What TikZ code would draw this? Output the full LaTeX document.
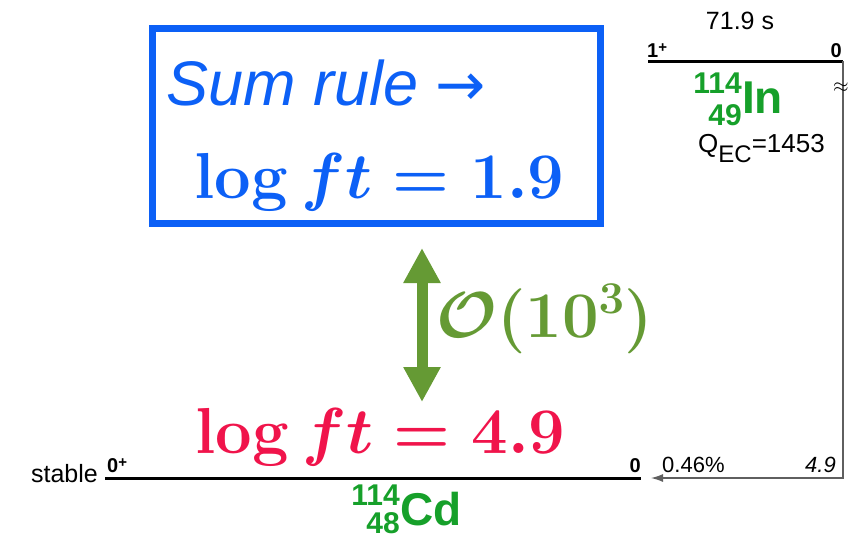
\RequirePackage{fix-cm}
\documentclass[tikz,border=0pt]{standalone}
\usepackage[no-math]{fontspec}
\newfontfamily\helv{Liberation Sans}
\newfontfamily\symb{DejaVu Sans}
\usetikzlibrary{arrows.meta}
\definecolor{sumblue}{RGB}{12,96,246}
\definecolor{ordgreen}{RGB}{101,154,52}
\definecolor{ftred}{RGB}{240,20,75}
\definecolor{nucgreen}{RGB}{22,160,42}
\definecolor{decaygray}{RGB}{95,95,95}
\newcommand\spinplus{\raisebox{5pt}{\fontsize{15}{15}\selectfont+}}

\begin{document}
\begin{tikzpicture}[
            x=1pt, y=-1pt,
            line cap=butt,
            level/.style={line width=3pt},
            sum box/.style={draw=sumblue, line width=7pt, inner sep=0pt},
            sum text/.style={sumblue, inner sep=0pt, font=\helv\itshape\fontsize{63}{63}\selectfont},
            ft text/.style={inner sep=0pt, font=\fontsize{65}{65}\selectfont\boldmath},
            order arrow/.style={
                ordgreen, line width=11pt,
                {Triangle[length=35pt, width=35pt]}-{Triangle[length=35pt, width=35pt]}
            },
            decay/.style={decaygray, line width=1.2pt, -{Latex[length=12pt, width=8pt]}},
            spin label/.style={inner sep=0pt, font=\helv\bfseries\fontsize{20}{20}\selectfont},
            level label/.style={inner sep=0pt, font=\helv\fontsize{25}{25}\selectfont},
            branch label/.style={inner sep=0pt, font=\helv\fontsize{22}{22}\selectfont},
            nuc symbol/.style={nucgreen, inner sep=0pt, font=\helv\bfseries\fontsize{46}{46}\selectfont},
            nuc number/.style={nucgreen, inner sep=0pt, font=\helv\bfseries\fontsize{30}{30}\selectfont},
        ]
        \useasboundingbox (0,0) rectangle (849,539);

        \coordinate (cdL) at (105,478);
        \coordinate (cdR) at (641,478);
        \coordinate (inL) at (648,61);
        \coordinate (inR) at (843,61);
        \coordinate (feed) at (651,478);
        \coordinate (ordtop) at (422,248);
        \coordinate (ordbot) at (422,402);

        \node[sum box, minimum width=448pt, minimum height=195pt] (sumbox) at (376,125.5) {};
        \node[sum text, anchor=base west] (sumrule) at (166,105) {Sum rule {\symb\upshape\fontsize{60}{60}\selectfont →}};
        \node[ft text, sumblue, anchor=base west] (ftsum) at (194,198) {$\log ft = 1.9$};

        \draw[order arrow] (ordtop) -- (ordbot);
        \node[ft text, ordgreen, anchor=base west] (ordlabel) at (436,337) {$\mathcal{O}(10^3)$};

        \node[ft text, ftred, anchor=base west] (ftcd) at (195,453) {$\log ft = 4.9$};

        \draw[level] (cdL) -- (cdR);
        \draw[level] (inL) -- (inR);
        \draw[decay] (inR) |- (feed);

        \node[level label, anchor=base east] (stable) at (98,482) {stable};
        \node[spin label, anchor=base west] (cdspin) at (107,472) {0\spinplus};
        \node[spin label, anchor=base east] (cden) at (641,472) {0};
        \node[branch label, anchor=base west] (branch) at (662,472) {0.46\%};
        \node[branch label, anchor=base east] (logft) at (836,472) {\itshape 4.9};

        \node[spin label, anchor=base west] (inspin) at (647,57) {1\spinplus};
        \node[spin label, anchor=base east] (inen) at (842,57) {0};
        \node[level label, anchor=base] (halflife) at (740,29) {71.9 s};
        \node[inner sep=0pt, font=\fontsize{20}{20}\selectfont] (gap) at (841,88) {$\approx$};

        \node[nuc symbol, anchor=base west] (cd) at (400,525) {Cd};
        \node[nuc number, anchor=base east] (cdA) at ([yshift=20pt]cd.base west) {114};
        \node[nuc number, anchor=base east] (cdZ) at ([yshift=-8pt]cd.base west) {48};

        \node[nuc symbol, anchor=base west] (in) at (742,113) {In};
        \node[nuc number, anchor=base east] (inA) at ([yshift=20pt]in.base west) {114};
        \node[nuc number, anchor=base east] (inZ) at ([yshift=-12pt]in.base west) {49};

        \node[level label, anchor=base west] (qec) at (698,152) {\fontsize{26}{26}\selectfont Q\raisebox{-10pt}{\fontsize{24}{24}\selectfont EC}=1453};
        \end{tikzpicture}
\end{document}
